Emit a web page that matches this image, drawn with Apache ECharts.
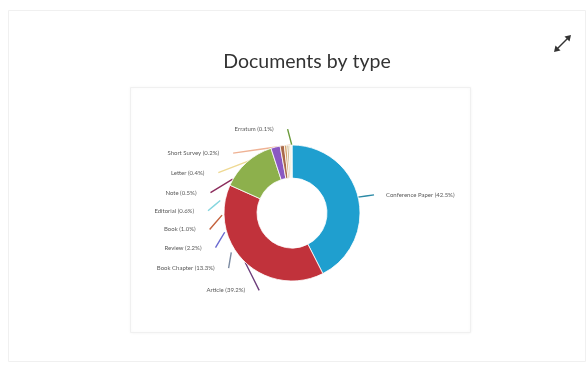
<!DOCTYPE html>
<html>
<head>
<meta charset="utf-8">
<script src="https://cdn.jsdelivr.net/npm/echarts@6/dist/echarts.min.js"></script>
<style>
  html, body { margin: 0; padding: 0; background: #ffffff; }
  #chart { width: 588px; height: 365px; }
</style>
</head>
<body>
<div id="chart"></div>
<script>
// Document types and their share of all documents (%), clockwise from 12 o'clock
const docTypes = ['Conference Paper', 'Article', 'Book Chapter', 'Review', 'Book',
                  'Editorial', 'Note', 'Letter', 'Short Survey', 'Erratum'];
const docShares = [42.5, 39.2, 13.3, 2.2, 1.0, 0.6, 0.5, 0.4, 0.2, 0.1];

// Slice fills and leader-line colours
const sliceColors = ['#1f9fcf', '#c1323b', '#8db04c', '#8a58c2', '#a9694a',
                     '#d6a56e', '#c7b187', '#e6d3a6', '#efc19c', '#9bbb59'];
const leaderColors = ['#2b8aa6', '#6e3f7c', '#7c8ba2', '#6b6bd0', '#c4623d',
                      '#86d6df', '#8c2c5c', '#efd993', '#efb294', '#6a9a3a'];

// Where each label sits around the ring (degrees clockwise from 12 o'clock)
// and how far its leader line reaches back toward the slice (px)
const labelAngles = [77.5, 203, 229, 245.6, 258.7, 271.5, 284, 298.7, 315.5, 357];
const leaderReach = [Infinity, Infinity, 16, 18, 19, 16, 26, Infinity, Infinity, Infinity];

const CX = 292, CY = 213, R_IN = 35, R_OUT = 68, R_LABEL = 84;

const total = docShares.reduce((a, b) => a + b, 0);
const midAngles = [];
let acc = 0;
docShares.forEach(v => { midAngles.push((acc + v / 2) / total * 360); acc += v; });

function polar(angleDeg, r) {
  const a = angleDeg * Math.PI / 180;
  return [CX + r * Math.sin(a), CY - r * Math.cos(a)];
}

const chart = echarts.init(document.getElementById('chart'), null, { renderer: 'canvas' });

chart.setOption({
  backgroundColor: '#ffffff',
  animation: false,
  title: {
    text: 'Documents by type',
    left: 302,
    top: 47,
    textAlign: 'center',
    textStyle: { fontFamily: 'Lato', fontSize: 19.5, fontWeight: 'normal', color: '#333333' }
  },
  graphic: [
    // card outline
    { type: 'rect', silent: true, z: -2,
      shape: { x: 8.5, y: 10.5, width: 577, height: 351 },
      style: { fill: '#ffffff', stroke: '#f0f0f0', lineWidth: 1 } },
    // chart panel
    { type: 'rect', silent: true, z: -1,
      shape: { x: 130.5, y: 87.5, width: 340, height: 245 },
      style: { fill: '#ffffff', stroke: '#f0f0f0', lineWidth: 1,
               shadowBlur: 3, shadowColor: 'rgba(0,0,0,0.05)' } },
    // expand icon
    { type: 'group', silent: true, children: [
      { type: 'line', shape: { x1: 557, y1: 49, x2: 568, y2: 38 },
        style: { stroke: '#333', lineWidth: 1.5 } },
      { type: 'polygon', shape: { points: [[571, 35], [564.5, 36.5], [569.5, 41.5]] },
        style: { fill: '#333' } },
      { type: 'polygon', shape: { points: [[554, 52], [555.5, 45.5], [560.5, 50.5]] },
        style: { fill: '#333' } }
    ] }
  ],
  series: [{
    type: 'pie',
    silent: true,
    center: [CX, CY],
    radius: [R_IN, R_OUT],
    startAngle: 90,
    clockwise: true,
    avoidLabelOverlap: false,
    itemStyle: { borderColor: '#ffffff', borderWidth: 0.8 },
    emphasis: { disabled: true },
    label: {
      show: true,
      position: 'outside',
      fontFamily: 'Lato',
      fontSize: 6,
      color: '#5a5a5a',
      formatter: p => `${p.name} (${p.value.toFixed(1)}%)`
    },
    labelLine: { show: true, length: 6, length2: 6, smooth: false, lineStyle: { width: 1.4 } },
    labelLayout: function (p) {
      const i = p.dataIndex;
      const anchor = polar(labelAngles[i], R_LABEL);
      const edge = polar(midAngles[i], R_OUT);
      const dx = edge[0] - anchor[0], dy = edge[1] - anchor[1];
      const dist = Math.hypot(dx, dy) || 1;
      const len = Math.min(dist, leaderReach[i]);
      const end = [anchor[0] + dx / dist * len, anchor[1] + dy / dist * len];
      const onRight = anchor[0] > CX;
      return {
        x: onRight ? anchor[0] + 12 : anchor[0] - 14,
        y: anchor[1],
        align: onRight ? 'left' : 'right',
        verticalAlign: 'middle',
        labelLinePoints: [end, [(end[0] + anchor[0]) / 2, (end[1] + anchor[1]) / 2], anchor]
      };
    },
    data: docTypes.map((name, i) => ({
      name: name,
      value: docShares[i],
      itemStyle: { color: sliceColors[i] },
      labelLine: { lineStyle: { color: leaderColors[i] } }
    }))
  }]
});
</script>
</body>
</html>
